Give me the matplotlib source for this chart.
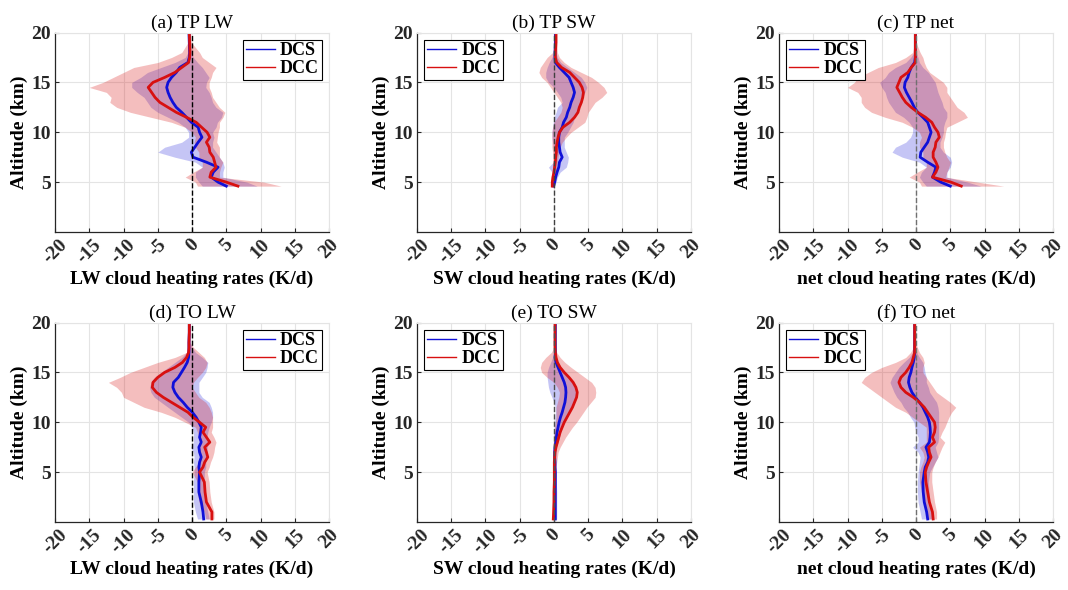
import numpy as np
import matplotlib
matplotlib.use("Agg")
import matplotlib.pyplot as plt
from matplotlib.lines import Line2D

plt.rcParams['font.family'] = ['Liberation Serif', 'DejaVu Serif']

# altitude grids (km)
z_tp = [4.6, 5, 5.5, 6, 6.5, 7, 7.5, 8, 8.5, 9, 9.5, 10, 10.5, 11, 11.5, 12, 12.5,
        13, 13.5, 14, 14.5, 15, 15.5, 16, 16.5, 17, 17.5, 18, 19, 20]
z_to = [0.3, 1, 2, 3, 4, 5, 5.5, 6, 6.5, 7, 7.5, 8, 8.5, 9, 9.5, 10, 10.5, 11, 11.5,
        12, 12.5, 13, 13.5, 14, 14.5, 15, 15.5, 16, 16.5, 17, 17.5, 18, 19, 20]

# (a) TP LW
a_dcs = [5.0, 3.8, 2.8, 3.1, 3.8, 2.1, 0.15, -0.1, 0.4, 0.9, 1.45, 1.1, 0.9, -0.1, -0.8, -1.5, -2.3,
         -2.8, -3.2, -3.5, -3.7, -3.5, -3.0, -2.3, -1.8, -0.6, -0.4, -0.35, -0.4, -0.45]
a_dcs_lo = [1.5, 1.0, 0.5, 0.5, 1.5, 0.5, -2.5, -5.0, -4.0, -1.5, -0.5, -0.5, -1.0, -2.0, -3.5, -5.0, -6.0,
            -6.5, -7.0, -8.0, -8.8, -8.8, -7.5, -6.5, -4.5, -2.5, -1.0, -0.6, -0.6, -0.6]
a_dcs_hi = [9.5, 8.0, 4.5, 4.5, 4.7, 4.5, 4.0, 3.5, 3.0, 3.0, 3.2, 3.0, 3.5, 3.7, 4.3, 4.5, 3.5,
            3.0, 2.8, 2.5, 2.0, 2.1, 2.5, 2.0, 1.5, 0.8, 0.2, -0.1, -0.2, -0.3]
a_dcc = [6.7, 5.0, 2.6, 2.8, 3.5, 3.3, 3.1, 2.6, 2.5, 2.1, 2.6, 2.2, 1.4, 0.6, -0.8, -2.3, -3.5,
         -4.7, -5.4, -5.9, -6.4, -5.7, -4.0, -2.5, -1.5, -0.5, -0.35, -0.3, -0.35, -0.4]
a_dcc_lo = [0.8, 0.5, -1.0, 0.2, 1.5, 1.5, 1.0, 1.0, 0.5, 0.3, 0.5, 0.0, -1.0, -3.0, -6.0, -9.0, -11.0,
            -12.0, -11.8, -12.5, -15.0, -13.0, -11.5, -10.0, -8.5, -5.0, -3.0, -1.5, -0.6, -0.6]
a_dcc_hi = [13.0, 10.5, 4.0, 4.0, 4.2, 4.5, 4.0, 4.0, 4.0, 3.6, 3.7, 3.8, 4.0, 4.0, 4.5, 4.8, 4.0,
            3.5, 3.0, 2.8, 2.5, 2.5, 2.8, 3.0, 3.5, 2.5, 1.5, 1.1, -0.1, -0.2]

# (b) TP SW
b_dcs = [-0.05, 0.1, 0.25, 0.45, 0.7, 0.8, 1.2, 0.9, 0.8, 0.7, 0.7, 0.8, 1.2, 1.4, 1.8, 2.0, 2.3,
         2.5, 2.8, 3.0, 2.8, 2.5, 2.2, 1.5, 0.8, 0.2, 0.15, 0.15, 0.2, 0.2]
b_dcs_lo = [-0.2, -0.1, -0.1, -0.3, -0.8, -0.1, 0.0, 0.0, -0.1, -0.2, -0.3, -0.3, -0.2, -0.1, 0.0, 0.3, 0.5,
            1.2, 1.0, 0.5, 0.0, -0.8, -1.2, -1.2, -1.0, -0.7, -0.3, 0.0, 0.1, 0.1]
b_dcs_hi = [0.1, 0.3, 0.5, 0.9, 1.8, 2.0, 2.1, 1.8, 1.5, 1.5, 1.5, 2.0, 2.4, 2.8, 3.0, 3.3, 3.5,
            3.8, 4.2, 4.5, 4.8, 4.5, 4.0, 3.0, 2.0, 1.0, 0.5, 0.3, 0.3, 0.3]
b_dcc = [-0.25, -0.25, -0.15, 0.0, 0.1, 0.2, 0.25, 0.35, 0.35, 0.45, 0.6, 0.8, 1.3, 2.3, 3.0, 3.5, 3.7,
         4.0, 4.2, 4.3, 4.1, 3.7, 3.0, 2.3, 1.1, 0.4, 0.2, 0.2, 0.3, 0.3]
b_dcc_lo = [-0.4, -0.4, -0.4, -0.3, -0.2, -0.2, -0.2, -0.2, -0.3, -0.3, -0.3, -0.3, -0.2, 0.0, 0.5, 1.0, 1.2,
            1.0, 0.5, 0.0, -0.5, -1.0, -1.8, -2.2, -2.0, -1.5, -1.0, -0.2, 0.2, 0.2]
b_dcc_hi = [0.0, 0.0, 0.1, 0.3, 0.4, 0.5, 0.6, 0.7, 0.9, 1.2, 1.8, 2.5, 3.5, 4.5, 4.8, 5.0, 5.5,
            6.0, 7.0, 7.7, 7.3, 6.5, 5.5, 4.0, 2.5, 1.5, 0.8, 0.5, 0.4, 0.4]

# (c) TP net
c_dcs = [5.0, 3.6, 2.4, 2.7, 2.9, 1.7, 0.6, 0.7, 1.2, 1.7, 1.95, 2.2, 1.95, 1.7, 1.0, 0.25, -0.25,
         -0.6, -1.0, -1.4, -1.7, -1.6, -1.2, -1.0, -0.7, -0.2, -0.1, -0.1, -0.1, -0.1]
c_dcs_lo = [1.5, 1.0, 0.5, 0.8, 1.5, 0.5, -2.0, -3.5, -3.0, -1.5, -0.8, -0.5, -0.5, -1.0, -1.8, -3.0, -3.5,
            -4.0, -4.3, -4.5, -5.0, -5.3, -4.5, -4.0, -3.0, -1.5, -0.8, -0.3, -0.2, -0.2]
c_dcs_hi = [9.5, 7.5, 4.5, 4.5, 5.0, 5.2, 5.0, 4.0, 3.5, 3.5, 3.8, 4.0, 4.0, 4.2, 4.5, 4.5, 4.0,
            3.8, 3.5, 3.2, 3.0, 2.8, 2.3, 1.8, 1.0, 0.5, 0.3, 0.0, 0.0, 0.0]
c_dcc = [6.6, 5.1, 2.4, 2.9, 3.2, 2.9, 2.5, 2.5, 2.8, 2.9, 3.4, 3.2, 2.7, 2.3, 1.4, 0.25, -0.7,
         -1.5, -2.0, -2.4, -2.8, -2.5, -2.2, -1.2, -0.7, -0.1, -0.1, -0.1, -0.1, -0.1]
c_dcc_lo = [0.8, 0.5, -1.0, 0.2, 1.5, 1.5, 1.0, 1.0, 0.5, 0.5, 0.8, 0.5, -0.5, -2.0, -4.5, -6.5, -7.5,
            -8.0, -8.0, -8.5, -10.0, -9.0, -8.5, -7.0, -5.5, -3.0, -1.5, -0.5, -0.2, -0.2]
c_dcc_hi = [12.8, 9.0, 4.3, 4.5, 4.8, 5.0, 4.5, 4.2, 4.0, 4.0, 4.2, 4.3, 4.5, 6.0, 7.5, 7.0, 6.0,
            5.5, 5.0, 4.5, 4.5, 4.0, 3.0, 2.0, 1.5, 1.2, 1.0, 0.6, 0.0, 0.0]

# (d) TO LW
d_dcs = [1.7, 1.6, 1.35, 1.0, 1.0, 1.1, 1.0, 1.1, 1.35, 1.1, 1.0, 1.35, 1.1, 1.25, 1.35, 1.0, 0.6, 0.05,
         -0.7, -1.3, -2.0, -2.5, -2.8, -2.7, -2.0, -1.55, -1.1, -0.7, -0.5, -0.45, -0.45, -0.45, -0.4, -0.4]
d_dcs_lo = [0.8, 0.5, 0.2, 0.2, 0.2, 0.3, 0.3, 0.2, 0.3, 0.2, -0.2, 0.2, 0.2, 0.2, 0.0, -0.5, -1.5, -2.5,
            -3.5, -4.5, -5.5, -6.0, -6.2, -6.0, -5.5, -4.5, -3.5, -2.5, -1.5, -0.8, -0.6, -0.6, -0.55, -0.5]
d_dcs_hi = [2.5, 2.3, 2.0, 1.8, 1.8, 1.8, 2.0, 2.0, 2.2, 2.2, 2.2, 2.5, 2.2, 2.3, 2.5, 2.8, 3.0, 3.0,
            2.8, 2.5, 1.5, 1.0, 1.0, 1.0, 1.5, 2.0, 2.2, 2.3, 1.5, 0.5, 0.0, -0.3, -0.3, -0.3]
d_dcc = [2.9, 2.9, 2.1, 1.9, 1.8, 1.1, 1.6, 1.85, 2.3, 2.1, 1.85, 2.6, 2.1, 1.6, 2.0, 1.1, 0.15, -0.6,
         -1.8, -3.0, -4.2, -5.2, -5.8, -5.7, -5.0, -4.0, -2.5, -1.4, -0.8, -0.5, -0.45, -0.45, -0.4, -0.4]
d_dcc_lo = [2.0, 1.8, 1.0, 0.8, 0.8, 0.0, 0.5, 1.0, 1.3, 1.0, 0.8, 1.5, 1.0, 0.8, 0.5, -1.0, -2.5, -4.5,
            -7.0, -8.5, -10.0, -10.3, -11.0, -12.2, -10.5, -9.0, -7.0, -5.0, -2.5, -0.8, -0.6, -0.6, -0.55, -0.5]
d_dcc_hi = [3.2, 3.2, 2.8, 2.6, 2.5, 2.2, 2.5, 2.7, 3.0, 3.2, 3.3, 3.5, 3.2, 2.8, 3.0, 3.0, 3.0, 2.8,
            2.5, 2.0, 1.0, 0.5, 0.0, 0.2, 0.8, 1.5, 2.0, 2.2, 1.8, 1.0, 0.2, -0.3, -0.3, -0.3]

# (e) TO SW
e_dcs = [0.2, 0.2, 0.2, 0.2, 0.2, 0.2, 0.15, 0.15, 0.1, 0.1, 0.15, 0.25, 0.35, 0.45, 0.6, 0.75, 0.95, 1.2,
         1.4, 1.6, 1.7, 1.75, 1.7, 1.5, 1.2, 0.9, 0.6, 0.3, 0.15, 0.2, 0.2, 0.2, 0.2, 0.2]
e_dcs_lo = [0.0, 0.0, 0.0, 0.0, 0.0, 0.0, 0.0, 0.0, -0.05, -0.05, 0.0, 0.0, 0.0, 0.0, 0.05, 0.1, 0.15, 0.2,
            0.2, 0.0, -0.3, -0.6, -0.8, -0.9, -1.0, -1.0, -0.8, -0.5, -0.2, 0.1, 0.1, 0.1, 0.1, 0.1]
e_dcs_hi = [0.4, 0.4, 0.4, 0.4, 0.35, 0.35, 0.3, 0.3, 0.3, 0.3, 0.35, 0.6, 0.8, 1.0, 1.2, 1.5, 1.9, 2.3,
            2.7, 3.0, 3.2, 3.2, 3.0, 2.7, 2.2, 1.6, 1.0, 0.6, 0.3, 0.25, 0.25, 0.25, 0.25, 0.25]
e_dcc = [-0.1, -0.05, 0.0, 0.0, 0.05, 0.05, 0.05, 0.05, 0.1, 0.15, 0.3, 0.5, 0.7, 0.9, 1.2, 1.5, 1.9, 2.3,
         2.7, 3.0, 3.3, 3.4, 3.2, 2.8, 2.2, 1.5, 0.9, 0.5, 0.3, 0.2, 0.15, 0.15, 0.15, 0.15]
e_dcc_lo = [-0.3, -0.3, -0.25, -0.2, -0.2, -0.2, -0.2, -0.2, -0.2, -0.2, -0.2, -0.1, 0.0, 0.0, 0.1, 0.2, 0.3, 0.3,
            0.3, 0.5, 0.7, 0.8, 0.5, 0.0, -1.0, -1.8, -2.0, -1.8, -1.2, -0.4, 0.0, 0.05, 0.05, 0.05]
e_dcc_hi = [0.1, 0.15, 0.2, 0.2, 0.25, 0.3, 0.3, 0.4, 0.5, 0.6, 0.9, 1.3, 1.7, 2.2, 2.7, 3.3, 3.8, 4.3,
            4.8, 5.4, 6.0, 6.1, 6.0, 5.5, 4.5, 3.5, 2.5, 1.6, 0.9, 0.4, 0.3, 0.25, 0.25, 0.25]

# (f) TO net
f_dcs = [1.7, 1.55, 1.2, 1.05, 1.0, 1.2, 1.35, 1.7, 1.85, 1.7, 1.45, 1.95, 2.05, 2.1, 2.05, 1.95, 1.7, 1.35,
         1.0, 0.5, -0.1, -0.6, -0.9, -1.1, -1.0, -0.75, -0.6, -0.4, -0.25, -0.2, -0.2, -0.2, -0.2, -0.2]
f_dcs_lo = [0.8, 0.6, 0.3, 0.2, 0.2, 0.3, 0.4, 0.5, 0.6, 0.3, -0.5, 0.3, 0.3, 0.0, -0.2, -0.3, -0.8, -1.2,
            -1.8, -2.2, -2.8, -3.2, -3.5, -3.8, -3.5, -3.0, -2.5, -1.8, -1.0, -0.5, -0.3, -0.3, -0.3, -0.3]
f_dcs_hi = [2.5, 2.4, 2.0, 1.9, 1.8, 2.0, 2.4, 2.8, 3.2, 3.0, 2.8, 3.2, 3.3, 3.3, 3.3, 3.3, 3.3, 3.3,
            3.2, 3.0, 2.5, 2.0, 1.8, 1.5, 1.5, 1.3, 1.2, 1.0, 0.5, 0.1, -0.1, -0.1, -0.1, -0.1]
f_dcc = [2.5, 2.4, 1.95, 1.7, 1.45, 1.35, 1.55, 1.85, 2.2, 1.95, 1.85, 2.7, 2.4, 2.7, 2.8, 2.7, 2.2, 1.7,
         1.2, 0.5, -0.4, -1.5, -2.2, -2.5, -2.2, -1.5, -1.0, -0.6, -0.4, -0.2, -0.2, -0.2, -0.2, -0.2]
f_dcc_lo = [1.8, 1.6, 1.0, 0.8, 0.5, 0.5, 0.7, 1.0, 1.2, 1.0, 0.5, 1.5, 1.5, 1.5, 1.5, 0.5, -0.5, -1.5,
            -3.0, -4.0, -5.0, -6.0, -7.0, -8.0, -7.5, -6.5, -5.0, -3.0, -1.5, -0.8, -0.4, -0.3, -0.3, -0.3]
f_dcc_hi = [3.0, 3.0, 2.7, 2.5, 2.3, 2.3, 2.5, 2.8, 3.2, 3.5, 3.8, 4.2, 3.5, 3.8, 4.2, 4.5, 4.8, 5.2,
            5.8, 5.0, 4.0, 3.0, 2.5, 2.0, 1.5, 1.0, 1.0, 1.2, 1.0, 0.5, 0.2, -0.1, -0.1, -0.1]

titles = ["(a) TP LW", "(b) TP SW", "(c) TP net", "(d) TO LW", "(e) TO SW", "(f) TO net"]
xlabels = ["LW cloud heating rates (K/d)", "SW cloud heating rates (K/d)", "net cloud heating rates (K/d)"]
xticks = [-20, -15, -10, -5, 0, 5, 10, 15, 20]
yticks = [5, 10, 15, 20]

panels = [
    (z_tp, a_dcs, a_dcs_lo, a_dcs_hi, a_dcc, a_dcc_lo, a_dcc_hi),
    (z_tp, b_dcs, b_dcs_lo, b_dcs_hi, b_dcc, b_dcc_lo, b_dcc_hi),
    (z_tp, c_dcs, c_dcs_lo, c_dcs_hi, c_dcc, c_dcc_lo, c_dcc_hi),
    (z_to, d_dcs, d_dcs_lo, d_dcs_hi, d_dcc, d_dcc_lo, d_dcc_hi),
    (z_to, e_dcs, e_dcs_lo, e_dcs_hi, e_dcc, e_dcc_lo, e_dcc_hi),
    (z_to, f_dcs, f_dcs_lo, f_dcs_hi, f_dcc, f_dcc_lo, f_dcc_hi),
]

blue = "#1010d8"
red = "#d81010"
zero_col = ["black", "#404040", "#707070", "black", "#505050", "#707070"]
leg_loc = ["upper right", "upper left", "upper left", "upper right", "upper left", "upper left"]

fig = plt.figure(figsize=(10.68, 5.9), dpi=100)
lefts = [0.0515, 0.3904, 0.7294]
bottoms = [0.6068, 0.1153]

for i, p in enumerate(panels):
    z, m1, l1, h1, m2, l2, h2 = p
    ax = fig.add_axes([lefts[i % 3], bottoms[i // 3], 0.2566, 0.338])
    ax.fill_betweenx(z, l1, h1, color=blue, alpha=0.24, lw=0)
    ax.fill_betweenx(z, l2, h2, color=red, alpha=0.27, lw=0)
    ax.plot(m1, z, color=blue, lw=2)
    ax.plot(m2, z, color=red, lw=2)
    ax.plot([0, 0], [0, 20], "--", color=zero_col[i], lw=1)
    ax.set_xlim(-20, 20)
    ax.set_ylim(0, 20)
    ax.set_xticks(xticks)
    ax.set_yticks(yticks)
    ax.set_xticklabels([str(t) for t in xticks], rotation=45, ha="center", fontweight="bold", fontsize=14)
    ax.set_yticklabels([str(t) for t in yticks], fontweight="bold", fontsize=14)
    ax.tick_params(direction="in", length=3, width=0.8, colors="#262626", pad=3)
    ax.grid(True, color="#e4e4e4", lw=0.8)
    ax.set_axisbelow(True)
    for s in ["top", "right"]:
        ax.spines[s].set_color("#e4e4e4")
    for s in ["left", "bottom"]:
        ax.spines[s].set_color("#262626")
        ax.spines[s].set_linewidth(0.9)
    ax.set_title(titles[i], fontsize=14, pad=3)
    ax.set_xlabel(xlabels[i % 3], fontsize=14, fontweight="bold", labelpad=3)
    ax.set_ylabel("Altitude (km)", fontsize=14, fontweight="bold", labelpad=2)
    handles = [Line2D([], [], color=blue, lw=1), Line2D([], [], color=red, lw=1)]
    leg = ax.legend(handles, ["DCS", "DCC"], loc=leg_loc[i], prop={"weight": "bold", "size": 13},
                    frameon=True, fancybox=False, edgecolor="black", framealpha=1,
                    handlelength=1.6, handletextpad=0.3, borderpad=0.15, labelspacing=0.05,
                    borderaxespad=0.4)
    leg.get_frame().set_linewidth(0.8)

plt.savefig("out.png", dpi=100)
